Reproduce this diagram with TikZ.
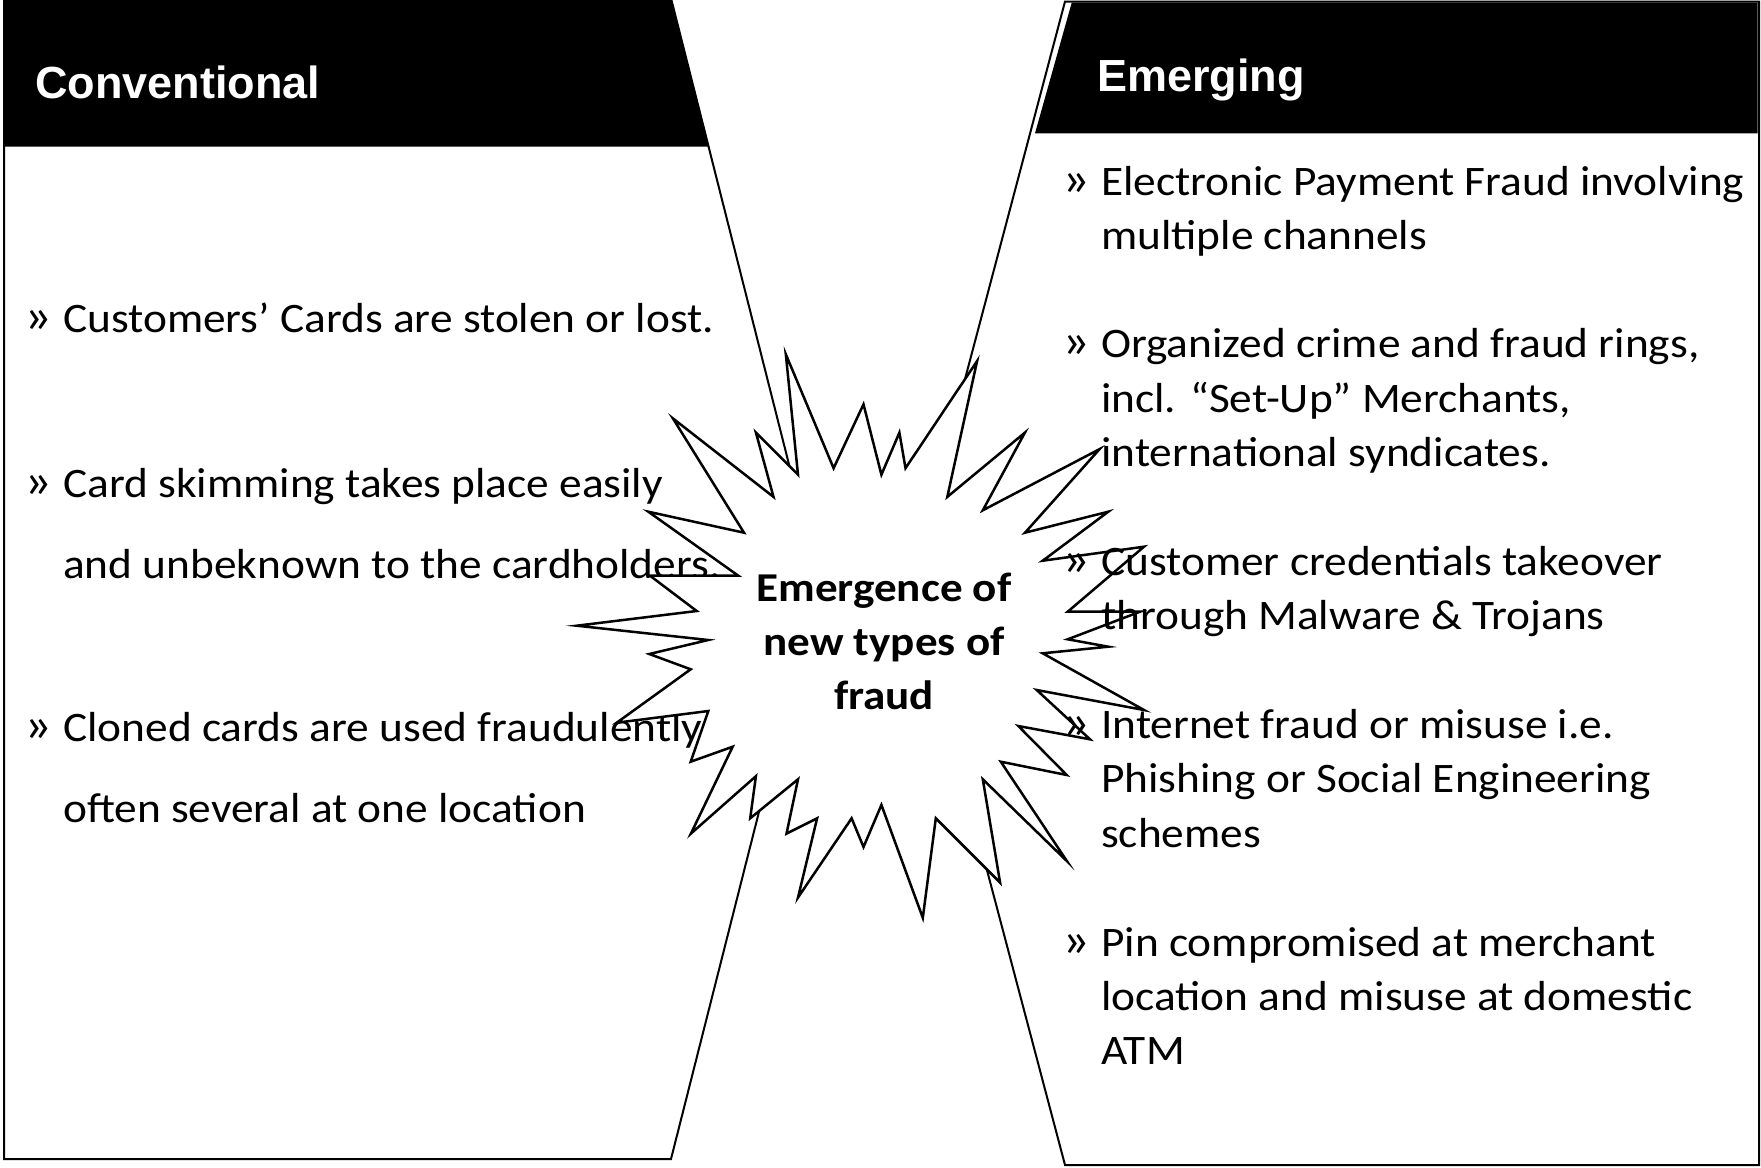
\documentclass[tikz,border=0pt]{standalone}
\usepackage{fontspec}
\setmainfont{Carlito}[FakeStretch=1.08]
\newfontfamily\burstfam{Carlito}[FakeStretch=1.10]
\newfontfamily\headfam{Liberation Sans}

\tikzset{
  outline/.style={draw=black, line width=2pt, line join=miter},
  headband/.style={fill=black, draw=none},
  burst/.style={draw=black, fill=white, line width=2.5pt, line join=miter},
  body/.style={inner sep=0pt, anchor=base west, font=\fontsize{42}{54}\selectfont},
  chevron/.style={inner sep=0pt, anchor=base west, font=\fontsize{50}{54}\selectfont},
  headtext/.style={inner sep=0pt, anchor=base west, text=white, font=\headfam\bfseries\fontsize{45}{54}\selectfont},
  bursttext/.style={inner sep=0pt, anchor=base, font=\burstfam\bfseries\fontsize{41}{54}\selectfont},
}

\begin{document}
\begin{tikzpicture}[x=1pt, y=-1pt]
\useasboundingbox (0,0) rectangle (1761,1167);

% ---- left panel: conventional fraud ----
\draw[outline, fill=white] (4,1) -- (671.7,1) -- (818,579) -- (671,1159) -- (4,1159) -- cycle;
\fill[headband] (5,1) -- (671.7,1) -- (709.3,146.7) -- (5,146.7) -- cycle;
\node[headtext] (convhead) at (35,98.3) {Conventional};

% ---- right panel: emerging fraud ----
\draw[outline, fill=white] (1065,1.5) -- (1759,1.5) -- (1759,1165) -- (1065,1165) -- (911,583) -- cycle;
\fill[headband] (1071.7,2.7) -- (1757.5,2.7) -- (1757.5,133.3) -- (1035,133.3) -- cycle;
\node[headtext] (emhead) at (1097,91.7) {Emerging};

% ---- left bullet list ----
\node[chevron] (lb1) at (24,332) {»};
\node[body] (l1a) at (63,332) {Customers’ Cards are stolen or lost.};
\node[chevron] (lb2) at (24,497) {»};
\node[body] (l2a) at (63,497) {Card skimming takes place easily};
\node[body] (l2b) at (63,578) {and unbeknown to the cardholders.};
\node[chevron] (lb3) at (24,741) {»};
\node[body] (l3a) at (63,741) {Cloned cards are used fraudulently};
\node[body] (l3b) at (63,822) {often several at one location};

% ---- central explosion ----
\draw[burst]
  (785.8,354.2) -- (833.6,468.2) -- (863.5,404.3) -- (881.4,474.7) -- (899.4,432.6)
  -- (905.5,468.2) -- (977.1,361.0) -- (947.3,496.9) -- (1024.9,432.6) -- (982.8,510.3)
  -- (1099.6,449.1) -- (1025,532.7) -- (1108.3,511.7) -- (1042.7,560.7) -- (1144,546.7)
  -- (1067.7,611.7) -- (1140,611.7) -- (1067.7,639.3) -- (1108.3,646.7) -- (1042.7,653.3)
  -- (1144,710) -- (1036.7,690) -- (1090,739.3) -- (1018.3,726) -- (1066.7,775)
  -- (1000.8,761.7) -- (1067.0,861.2) -- (982.8,779.3) -- (1000.1,882.6) -- (935.8,818.3)
  -- (922.8,917.8) -- (881.4,804.9) -- (863.5,847.0) -- (851.6,818.3) -- (798.0,897.5)
  -- (817.1,818.3) -- (786.5,833.6) -- (798.0,779.3) -- (750.2,818.3) -- (755.9,776.2)
  -- (690.9,833.6) -- (732.7,746.7) -- (690.7,761.7) -- (708.3,711) -- (616.7,722.7)
  -- (690.7,669.3) -- (649.3,654) -- (708.3,640) -- (576.7,625.7) -- (696.7,611)
  -- (650,575.7) -- (738.3,575.7) -- (648.3,511.7) -- (744,532.7) -- (672.9,418.4)
  -- (773.5,496.9) -- (755.9,432.6) -- (798.0,474.7) -- cycle;
\node[bursttext] (c1) at (884,601.4) {Emergence of};
\node[bursttext] (c2) at (884,655.7) {new types of};
\node[bursttext] (c3) at (884,709.3) {fraud};

% ---- right bullet list ----
\node[chevron] (rb1) at (1062,195) {»};
\node[body] (r1a) at (1101,195) {Electronic Payment Fraud involving};
\node[body] (r1b) at (1101,249) {multiple channels};
\node[chevron] (rb2) at (1062,357) {»};
\node[body] (r2a) at (1101,357) {Organized crime and fraud rings,};
\node[body] (r2b) at (1101,412) {incl. “Set-Up” Merchants,};
\node[body] (r2c) at (1101,466) {international syndicates.};
\node[chevron] (rb3) at (1062,575) {»};
\node[body] (r3a) at (1101,575) {Customer credentials takeover};
\node[body] (r3b) at (1101,629) {through Malware \& Trojans};
\node[chevron] (rb4) at (1062,738) {»};
\node[body] (r4a) at (1101,738) {Internet fraud or misuse i.e.};
\node[body] (r4b) at (1101,792) {Phishing or Social Engineering};
\node[body] (r4c) at (1101,847) {schemes};
\node[chevron] (rb5) at (1062,956) {»};
\node[body] (r5a) at (1101,956) {Pin compromised at merchant};
\node[body] (r5b) at (1101,1010) {location and misuse at domestic};
\node[body] (r5c) at (1101,1064) {ATM};
\end{tikzpicture}
\end{document}
